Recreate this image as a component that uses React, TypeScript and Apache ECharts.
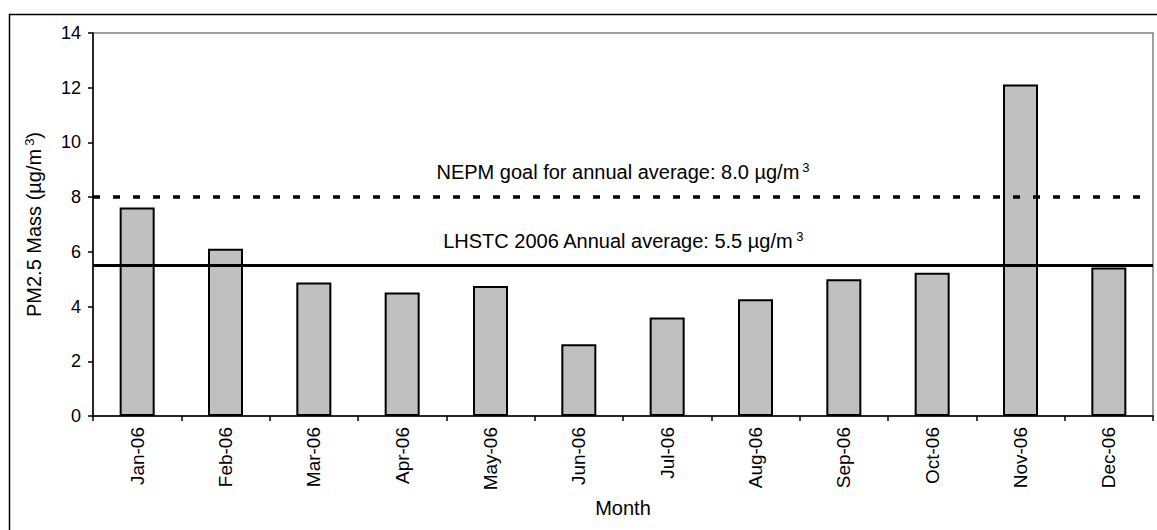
import React, { useEffect, useRef } from "react";
import * as echarts from "echarts";

const months = ["Jan-06", "Feb-06", "Mar-06", "Apr-06", "May-06", "Jun-06", "Jul-06", "Aug-06", "Sep-06", "Oct-06", "Nov-06", "Dec-06"];
const pm25 = [7.62, 6.11, 4.88, 4.51, 4.75, 2.62, 3.6, 4.27, 5.0, 5.24, 12.12, 5.43];
const nepmGoal = 8.0;
const annualAverage = 5.5;
const yTicks = { min: 0, max: 14, interval: 2 };

const FONT = "'Liberation Sans', Arial, sans-serif";

export default function App() {
  const ref = useRef<HTMLDivElement>(null);
  useEffect(() => {
    document.body.style.margin = "0";
    const chart = echarts.init(ref.current!, undefined, { renderer: "svg" });
    const rich = {
      a: { fontSize: 20, fontFamily: FONT, color: "#000", lineHeight: 22 },
      s: { fontSize: 13, fontFamily: FONT, color: "#000", lineHeight: 22, verticalAlign: "top", padding: [0, 0, 0, 3] },
    };
    chart.setOption({
      animation: false,
      textStyle: { fontFamily: FONT },
      graphic: [
        {
          type: "rect",
          shape: { x: 9.5, y: 14.5, width: 1170, height: 540 },
          style: { fill: "none", stroke: "#000", lineWidth: 1.5 },
          silent: true,
          z: -1,
        },
      ],
      grid: {
        left: 93,
        top: 33,
        right: 4,
        bottom: 114,
        show: true,
        borderColor: "#808080",
        borderWidth: 1.5,
        backgroundColor: "transparent",
      },
      xAxis: {
        type: "category",
        data: months,
        name: "Month",
        nameLocation: "middle",
        nameGap: 82,
        nameTextStyle: { fontSize: 20, color: "#000", fontFamily: FONT },
        axisLine: { lineStyle: { color: "#000", width: 1.5 } },
        axisTick: { show: true, length: 5, lineStyle: { color: "#000", width: 1.5 } },
        axisLabel: { rotate: 90, fontSize: 19, color: "#000", margin: 11, fontFamily: FONT },
      },
      yAxis: {
        type: "value",
        min: yTicks.min,
        max: yTicks.max,
        interval: yTicks.interval,
        name: "{a|PM2.5 Mass (µg/m}{s|3}{a|)}",
        nameLocation: "middle",
        nameGap: 48,
        nameTextStyle: { rich },
        splitLine: { show: false },
        axisLine: { show: true, lineStyle: { color: "#000", width: 1.5 } },
        axisTick: { show: true, length: 5, lineStyle: { color: "#000", width: 1.5 } },
        axisLabel: { fontSize: 18, color: "#000", margin: 12, fontFamily: FONT },
      },
      series: [
        {
          type: "bar",
          data: pm25,
          barWidth: 35,
          itemStyle: { color: "#c0c0c0", borderColor: "#000", borderWidth: 2 },
          markLine: {
            silent: true,
            symbol: "none",
            data: [
              {
                yAxis: nepmGoal,
                lineStyle: { color: "#000", width: 3.5, type: [7, 13] },
                label: {
                  show: true,
                  position: "middle",
                  distance: 14,
                  formatter: "{a|NEPM goal for annual average: " + nepmGoal.toFixed(1) + " µg/m}{s|3}",
                  rich,
                },
              },
              {
                yAxis: annualAverage,
                lineStyle: { color: "#000", width: 3, type: "solid" },
                label: {
                  show: true,
                  position: "middle",
                  distance: 14,
                  formatter: "{a|LHSTC 2006 Annual average: " + annualAverage.toFixed(1) + " µg/m}{s|3}",
                  rich,
                },
              },
            ],
          },
        },
      ],
    });
    return () => chart.dispose();
  }, []);
  return <div ref={ref} style={{ width: 1157, height: 530 }} />;
}
